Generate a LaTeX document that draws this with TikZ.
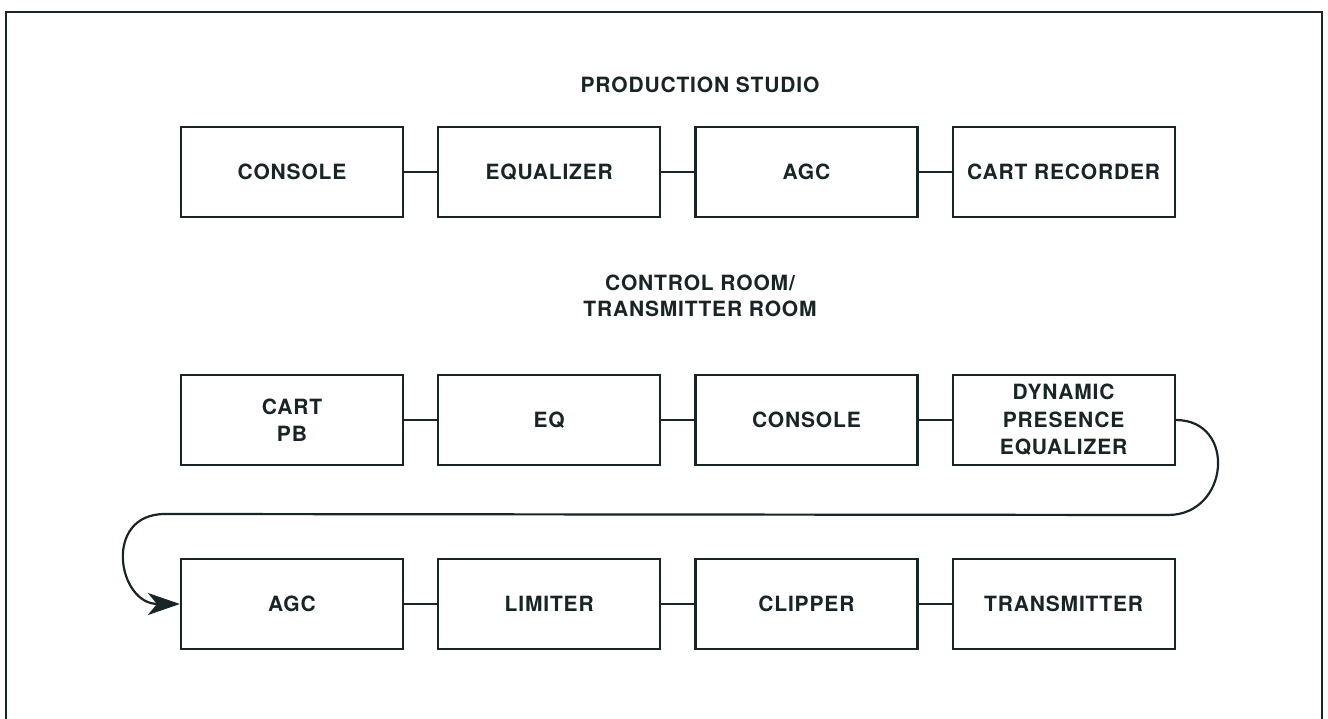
\documentclass[tikz,border=0pt]{standalone}
\usepackage{xcolor}
\usepackage{fontspec}
\usepackage{tikz}
\usetikzlibrary{arrows.meta,positioning}
\newfontfamily\blockfont[LetterSpace=4]{TeX Gyre Heros}
\definecolor{ink}{RGB}{24,36,38}
\tikzset{
  blockbox/.style={draw=ink, line width=2.2pt, minimum width=222pt, minimum height=90pt,
    inner sep=2pt, align=center, text=ink, font=\blockfont\bfseries\fontsize{21}{27.5}\selectfont},
  roomtitle/.style={align=center, text=ink, font=\blockfont\bfseries\fontsize{21}{25.5}\selectfont},
  wire/.style={draw=ink, line width=2.2pt}
}

\begin{document}
\begin{tikzpicture}[x=1pt, y=-1pt]
\useasboundingbox (0,0) rectangle (1328,719);
% outer frame, open at the bottom
\draw[wire, line width=2.4pt] (6,725) -- (6,12) -- (1322,12) -- (1322,725);

% production studio
\node[roomtitle] (studio) at (700,85) {PRODUCTION STUDIO};
\node[blockbox] (psConsole) at (292,172) {CONSOLE};
\node[blockbox, right=33pt of psConsole] (psEqualizer) {EQUALIZER};
\node[blockbox, right=33pt of psEqualizer] (psAgc) {AGC};
\node[blockbox, right=33pt of psAgc] (psCart) {CART RECORDER};

% control room / transmitter room
\node[roomtitle] (control) at (700,296) {CONTROL ROOM/\\TRANSMITTER ROOM};
\node[blockbox] (crCart) at (292,420) {CART\\PB};
\node[blockbox, right=33pt of crCart] (crEq) {EQ};
\node[blockbox, right=33pt of crEq] (crConsole) {CONSOLE};
\node[blockbox, right=33pt of crConsole] (crPresence) {DYNAMIC\\PRESENCE\\EQUALIZER};

\node[blockbox] (txAgc) at (292,604) {AGC};
\node[blockbox, right=33pt of txAgc] (txLimiter) {LIMITER};
\node[blockbox, right=33pt of txLimiter] (txClipper) {CLIPPER};
\node[blockbox, right=33pt of txClipper] (txTransmitter) {TRANSMITTER};

% links
\foreach \a/\b in {psConsole/psEqualizer, psEqualizer/psAgc, psAgc/psCart,
                   crCart/crEq, crEq/crConsole, crConsole/crPresence,
                   txAgc/txLimiter, txLimiter/txClipper, txClipper/txTransmitter}
  \draw[wire] (\a.east) -- (\b.west);

% return loop
\coordinate (loopRight) at (1168,515);
\coordinate (loopLeft) at (165,514);
\draw[wire, -{Stealth[length=32pt, width=22pt, inset=9pt]}]
  (crPresence.east) to[out=0, in=0, looseness=1.65] (loopRight)
  -- (loopLeft) to[out=180, in=180, looseness=1.75] (txAgc.west);
\end{tikzpicture}
\end{document}
